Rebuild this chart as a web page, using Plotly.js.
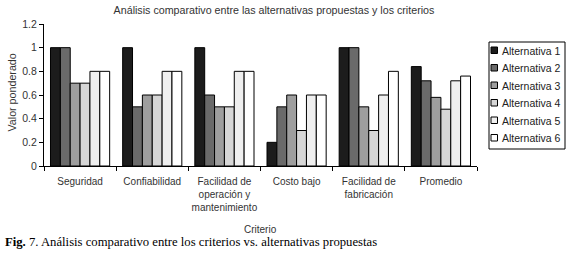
<!DOCTYPE html>
<html>
<head>
<meta charset="utf-8">
<script src="https://cdn.plot.ly/plotly-3.0.1.min.js"></script>
<style>
html,body{margin:0;padding:0;background:#fff;}
#chart{width:567px;height:258px;}
</style>
</head>
<body>
<div id="chart"></div>
<script>
const categories = ["Seguridad", "Confiabilidad", "Facilidad de<br>operación y<br>mantenimiento", "Costo bajo", "Facilidad de<br>fabricación", "Promedio"];
const seriesNames = ["Alternativa 1", "Alternativa 2", "Alternativa 3", "Alternativa 4", "Alternativa 5", "Alternativa 6"];
const alt1 = [1.0, 1.0, 1.0, 0.2, 1.0, 0.84];
const alt2 = [1.0, 0.5, 0.6, 0.5, 1.0, 0.72];
const alt3 = [0.7, 0.6, 0.5, 0.6, 0.5, 0.58];
const alt4 = [0.7, 0.6, 0.5, 0.3, 0.3, 0.48];
const alt5 = [0.8, 0.8, 0.8, 0.6, 0.6, 0.72];
const alt6 = [0.8, 0.8, 0.8, 0.6, 0.8, 0.76];
const seriesValues = [alt1, alt2, alt3, alt4, alt5, alt6];
const colors = ["#1c1c1c", "#6a6a6a", "#9e9e9e", "#d6d6d6", "#efefef", "#ffffff"];

const traces = seriesValues.map((vals, i) => ({
  type: "bar",
  name: seriesNames[i],
  x: categories,
  y: vals,
  marker: {color: colors[i], line: {color: "#000", width: 1}},
  hoverinfo: "x+y+name"
}));

const font = {family: "Liberation Sans, Arial, sans-serif", color: "#333", size: 10};

// plot area in pixels: x 44..477, y 24..166
const L = 44, W = 433, B = 166, H = 142;
const px = v => (v - L) / W;
const py = v => (B - v) / H;

const shapes = [
  {type: "rect", xref: "paper", yref: "paper", x0: px(489), x1: px(565), y0: py(42), y1: py(149),
   line: {color: "#000", width: 1}, fillcolor: "#fff", layer: "above"}
];
const annotations = [
  {text: "Valor ponderado", textangle: -90, xref: "paper", yref: "paper",
   x: px(11), y: py(92.5), xanchor: "center", yanchor: "middle", showarrow: false,
   font: {family: font.family, size: 10.7, color: "#333"}},
  {text: "Criterio", xref: "paper", yref: "paper",
   x: 0.5, y: py(229), xanchor: "center", yanchor: "middle", showarrow: false,
   font: {family: font.family, size: 10, color: "#333"}},
  {text: "<b>Fig.</b> 7. Análisis comparativo entre los criterios vs. alternativas propuestas",
   xref: "paper", yref: "paper", x: px(3), y: py(241.5),
   xanchor: "left", yanchor: "middle", showarrow: false,
   font: {family: "Liberation Serif, Times New Roman, serif", size: 12.7, color: "#000"}}
];
seriesNames.forEach((name, i) => {
  const cy = 50.5 + i * 17.5;
  shapes.push({type: "rect", xref: "paper", yref: "paper",
    x0: px(491), x1: px(497.5), y0: py(cy - 3.5), y1: py(cy + 3),
    line: {color: "#000", width: 1}, fillcolor: colors[i], layer: "above"});
  annotations.push({text: name, xref: "paper", yref: "paper", x: px(500), y: py(cy),
    xanchor: "left", yanchor: "middle", showarrow: false,
    font: {family: font.family, size: 10.5, color: "#222"}});
});

const layout = {
  width: 567, height: 258,
  margin: {l: 44, r: 90, t: 24, b: 92, pad: 0},
  paper_bgcolor: "#fff", plot_bgcolor: "#fff",
  font: font,
  barmode: "group", bargap: 0.18, bargroupgap: 0,
  showlegend: false,
  title: {text: "Análisis comparativo entre las alternativas propuestas y los criterios",
          font: {family: font.family, size: 10.7, color: "#333"},
          x: 274/567, xanchor: "center", y: 1 - 10/258, yanchor: "middle", xref: "container", yref: "container"},
  xaxis: {
    type: "category", showline: true, linecolor: "#000", linewidth: 1,
    ticks: "outside", tickson: "boundaries", ticklen: 4, tickcolor: "#000",
    showgrid: false, zeroline: false, automargin: false, tickangle: 0,
    ticklabelstandoff: 6,
    tickfont: {family: font.family, size: 10, color: "#333"}
  },
  yaxis: {
    range: [0, 1.2], dtick: 0.2, tick0: 0, showline: true, linecolor: "#000", linewidth: 1,
    ticks: "outside", ticklen: 4, tickcolor: "#000", showgrid: false, zeroline: false,
    automargin: false, tickformat: "~g",
    tickfont: {family: font.family, size: 10.5, color: "#333"}
  },
  shapes: shapes,
  annotations: annotations
};

Plotly.newPlot("chart", traces, layout, {displayModeBar: false, staticPlot: true});
</script>
</body>
</html>
